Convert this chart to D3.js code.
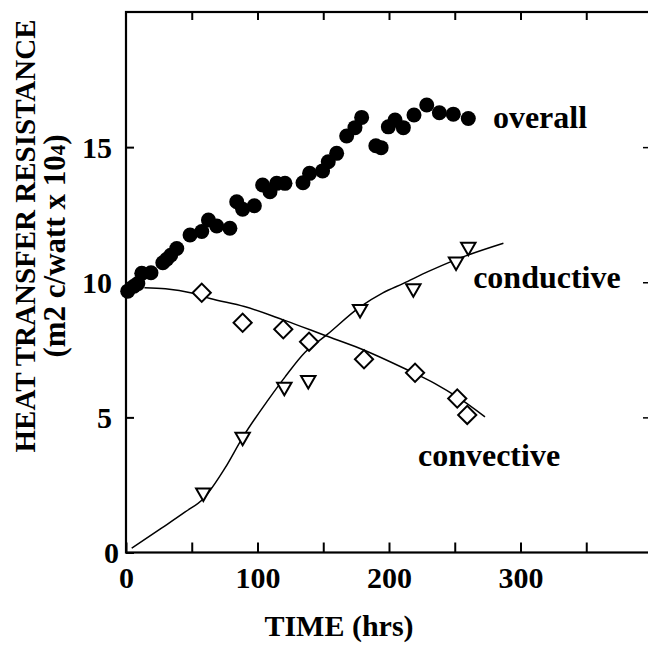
<!DOCTYPE html>
<html>
<head>
<meta charset="utf-8">
<script src="https://cdn.jsdelivr.net/npm/d3@7"></script>
<style>
  body { margin: 0; background: #fff; }
  text { font-family: "Liberation Serif", serif; font-weight: bold; fill: #000; }
</style>
</head>
<body>
<svg id="chart" width="648" height="645"></svg>
<script>
// overall resistance, filled circles: [hours, value]
let overall = [
    [1.3, 9.67], [6, 9.85], [9, 9.95], [12, 10.33], [19, 10.35], [28, 10.72],
    [31, 10.85], [34, 11.0], [38.6, 11.25], [48.7, 11.75], [57.6, 11.88], [62.7, 12.3],
    [69, 12.08], [79, 12.0], [84.2, 12.98], [88.7, 12.7], [97.6, 12.83], [103.9, 13.6],
    [109.5, 13.35], [114.6, 13.66], [120.9, 13.66], [134.6, 13.68], [139.6, 14.03],
    [149.5, 14.12], [153.8, 14.46], [160.2, 14.77], [167.8, 15.41], [174.1, 15.72],
    [179.2, 16.1], [190, 15.05], [194, 14.98], [199.5, 15.75], [204.6, 16.0],
    [210.9, 15.72], [219, 16.19], [228.7, 16.56], [238.3, 16.27], [248.9, 16.22],
    [260.3, 16.06]
];

// conductive, open triangles
let conductive = [
    [58.8, 2.21], [88.7, 4.28], [120.4, 6.13], [138.6, 6.38],
    [178, 9.0], [218.5, 9.77], [251, 10.76], [260.3, 11.31]
];
let conductiveFit = [
    [4.3, 0.16], [27, 0.9], [45, 1.5], [59, 2.0], [75, 3.1], [89, 4.28],
    [108, 5.64], [121, 6.5], [136, 7.4], [152.6, 8.05], [178, 9.09], [195, 9.6],
    [211, 9.96], [230, 10.4], [250, 10.82], [287, 11.44]
];

// convective, open diamonds
let convective = [
    [57.6, 9.61], [88.7, 8.5], [119.6, 8.26], [139.2, 7.8],
    [181, 7.15], [219.8, 6.65], [251.9, 5.7], [259.5, 5.09]
];
let convectiveFit = [
    [14, 9.8], [30, 9.76], [50, 9.6], [64, 9.4], [90, 9.1], [120, 8.6],
    [152, 8.02], [178, 7.55], [213, 6.78], [235, 6.25], [253, 5.72], [273, 5.02]
];

let xTicks = [0, 50, 100, 150, 200, 250, 300, 350],
    xLabels = [0, 100, 200, 300],
    yTicks = [0, 5, 10, 15];

let labels = [
    { text: "overall", x: 279, y: 15.7 },
    { text: "conductive", x: 264, y: 9.79 },
    { text: "convective", x: 222, y: 3.2 }
];

let svg = d3.select("#chart");

let x = d3.scaleLinear().domain([0, 400]).range([126, 652]),
    y = d3.scaleLinear().domain([0, 20]).range([552.5, 12]);

// frame
svg.append("rect")
    .attr("x", x(0)).attr("y", y(20))
    .attr("width", x(400) - x(0)).attr("height", y(0) - y(20))
    .attr("fill", "none").attr("stroke", "#000").attr("stroke-width", 2.2);

// bottom axis (ticks point up into the plot)
svg.append("g")
    .attr("transform", "translate(0," + y(0) + ")")
    .call(d3.axisBottom(x).tickValues(xTicks).tickSize(-10)
        .tickFormat(function(d) { return xLabels.indexOf(d) >= 0 ? d : ""; }))
    .call(function(g) {
        g.select(".domain").remove();
        g.selectAll("line").attr("stroke-width", 2);
        g.selectAll("text").attr("y", 35).attr("dy", 0)
            .attr("font-size", "30px").attr("font-family", null);
    });

// top ticks
svg.append("g")
    .attr("transform", "translate(0," + y(20) + ")")
    .call(d3.axisTop(x).tickValues(xTicks.slice(1)).tickSize(-8).tickFormat(""))
    .call(function(g) {
        g.select(".domain").remove();
        g.selectAll("line").attr("stroke-width", 2);
    });

// left axis
svg.append("g")
    .attr("transform", "translate(" + x(0) + ",0)")
    .call(d3.axisLeft(y).tickValues(yTicks).tickSize(-8).tickPadding(14))
    .call(function(g) {
        g.select(".domain").remove();
        g.selectAll("line").attr("stroke-width", 2);
        g.selectAll("text").attr("font-size", "30px").attr("font-family", null)
            .attr("dy", "0.34em")
            .attr("x", function(d) { return d === 0 ? -7 : -14; });
    });

// right ticks
svg.append("g")
    .attr("transform", "translate(" + x(400) + ",0)")
    .call(d3.axisRight(y).tickValues([5, 10, 15]).tickSize(-9).tickFormat(""))
    .call(function(g) {
        g.select(".domain").remove();
        g.selectAll("line").attr("stroke-width", 1.5);
    });

// fitted curves
let line = d3.line()
    .x(function(d) { return x(d[0]); })
    .y(function(d) { return y(d[1]); })
    .curve(d3.curveMonotoneX);

[conductiveFit, convectiveFit].forEach(function(fit) {
    svg.append("path")
        .datum(fit)
        .attr("d", line)
        .attr("fill", "none")
        .attr("stroke", "#000")
        .attr("stroke-width", 1.5);
});

// overall: filled circles
svg.selectAll(".overall")
    .data(overall)
    .enter().append("circle")
    .attr("class", "overall")
    .attr("cx", function(d) { return x(d[0]); })
    .attr("cy", function(d) { return y(d[1]); })
    .attr("r", 7.5)
    .attr("fill", "#000");

// conductive: down triangles
svg.selectAll(".cond")
    .data(conductive)
    .enter().append("path")
    .attr("class", "cond")
    .attr("d", d3.symbol().type(d3.symbolTriangle).size(90))
    .attr("transform", function(d) {
        return "translate(" + x(d[0]) + "," + y(d[1]) + ") rotate(180)";
    })
    .attr("fill", "#fff")
    .attr("stroke", "#000")
    .attr("stroke-width", 2);

// convective: diamonds
svg.selectAll(".conv")
    .data(convective)
    .enter().append("path")
    .attr("class", "conv")
    .attr("d", d3.symbol().type(d3.symbolSquare).size(165))
    .attr("transform", function(d) {
        return "translate(" + x(d[0]) + "," + y(d[1]) + ") rotate(45)";
    })
    .attr("fill", "#fff")
    .attr("stroke", "#000")
    .attr("stroke-width", 2);

// series labels
svg.selectAll(".lbl")
    .data(labels)
    .enter().append("text")
    .attr("class", "lbl")
    .attr("x", function(d) { return x(d.x); })
    .attr("y", function(d) { return y(d.y); })
    .attr("font-size", "32px")
    .text(function(d) { return d.text; });

// axis titles
svg.append("text")
    .attr("x", 339).attr("y", 636)
    .attr("text-anchor", "middle")
    .attr("font-size", "30px")
    .text("TIME (hrs)");

svg.append("text")
    .attr("transform", "translate(35,236) rotate(-90)")
    .attr("text-anchor", "middle")
    .attr("font-size", "29px")
    .text("HEAT TRANSFER RESISTANCE");

let sub = svg.append("text")
    .attr("transform", "translate(65,246) rotate(-90)")
    .attr("text-anchor", "middle")
    .attr("font-size", "31px");
sub.append("tspan").text("(m2 c/watt x 10");
sub.append("tspan").attr("font-size", "21px").text("4");
sub.append("tspan").text(")");
</script>
</body>
</html>
